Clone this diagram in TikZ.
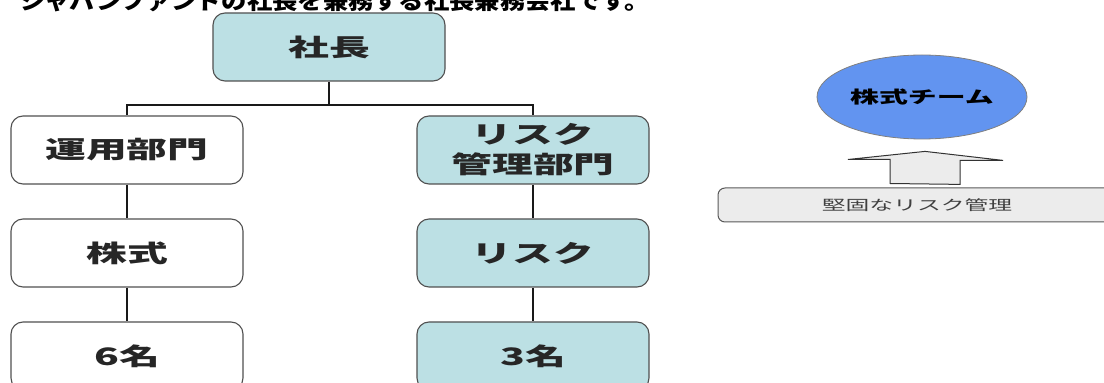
\documentclass[tikz,border=0pt]{standalone}
\usepackage{fontspec}
\usepackage{xcolor}
\usepackage{tikz}
\usetikzlibrary{calc}
\usetikzlibrary{positioning}
\usetikzlibrary{shapes.geometric}

\newfontfamily\jpfont[FakeStretch=1.7]{Noto Sans CJK JP}
\newfontfamily\capfont[FakeStretch=1.15]{Noto Sans CJK JP}
\definecolor{boxcyan}{RGB}{188,224,228}
\definecolor{teamblue}{RGB}{98,148,240}
\definecolor{basegray}{RGB}{236,236,236}
\definecolor{edgegray}{RGB}{80,80,80}

\begin{document}
\begin{tikzpicture}[x=1pt, y=1pt, node distance=103pt,
  every text node part/.style={align=center},
  orgbox/.style={draw=edgegray, line width=1.1pt, rounded corners=12pt, minimum width=232pt, minimum height=68pt, inner sep=0pt, text=black!85, font=\jpfont\bfseries\fontsize{24}{30}\selectfont},
  whitebox/.style={orgbox, fill=white},
  bluebox/.style={orgbox, fill=boxcyan},
  tree/.style={line width=2pt, black!90},
  blockarrow/.style={draw=black!80, line width=1pt, fill=basegray}]
\useasboundingbox (0,0) rectangle (1104,383);
\clip (0,0) rectangle (1104,383);

% cut-off line of text at the top
\node (caption) [anchor=base west, inner sep=0pt, font=\capfont\bfseries\fontsize{22}{26}\selectfont] at (20,373) {ジャパンファンドの社長を兼務する社長兼務会社です。};

% organisation chart
\node (pres) [bluebox] at (329,336) {社長};
\node (ops) [whitebox] at (127,233) {運用部門};
\node (stock) [whitebox, below of=ops] {株式};
\node (opsstaff) [whitebox, below of=stock] {6名};
\node (riskdept) [bluebox] at (533,233) {リスク\\管理部門};
\node (risk) [bluebox, below of=riskdept] {リスク};
\node (riskstaff) [bluebox, below of=risk] {3名};

\coordinate (fork) at ($(pres.south)+(0,-23)$);
\draw [tree] (pres.south) -- (fork);
\draw [tree] (fork) -| (ops.north);
\draw [tree] (fork) -| (riskdept.north);
\draw [tree, line width=1.6pt] (ops) -- (stock);
\draw [tree, line width=1.6pt] (stock) -- (opsstaff);
\draw [tree] (riskdept) -- (risk);
\draw [tree] (risk) -- (riskstaff);

% team supported by risk management
\node (team) [ellipse, draw=gray, line width=0.8pt, fill=teamblue, minimum width=210pt, minimum height=84pt, inner sep=0pt, font=\jpfont\bfseries\fontsize{17}{20}\selectfont] at (922,286) {株式チーム};
\node (base) [draw=gray!70!black, line width=1pt, fill=basegray, rounded corners=7pt, minimum width=398pt, minimum height=34pt, text=black!75, font=\jpfont\fontsize{14}{16}\selectfont] at (917,178) {堅固なリスク管理};

\draw [blockarrow] ($(base.north)+(-27,4)$) -- ++(0,24) -- ++(-42,0) -- ($(team.south)+(3,-12)$) -- ++(78,-9) -- ++(-43,0) -- ++(0,-24) -- cycle;

\end{tikzpicture}
\end{document}
